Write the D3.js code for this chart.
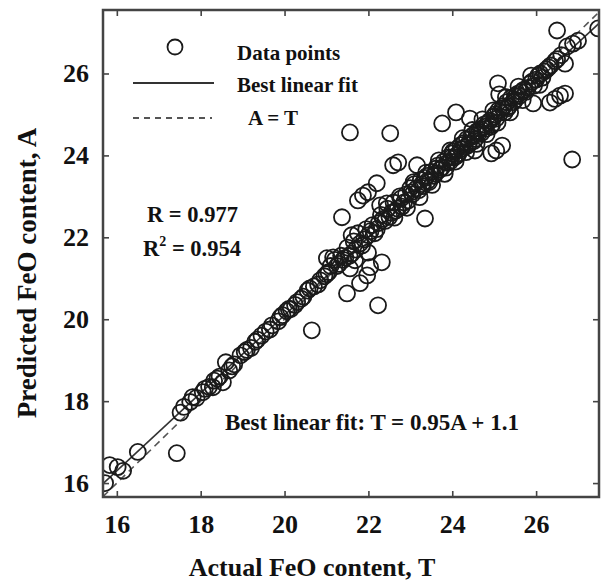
<!DOCTYPE html>
<html>
<head>
<meta charset="utf-8">
<script src="https://cdn.jsdelivr.net/npm/d3@7"></script>
<style>
  html, body { margin: 0; padding: 0; background: #fff; }
  svg text { font-family: 'Liberation Serif', 'Times New Roman', serif; font-weight: bold; fill: #111; }
</style>
</head>
<body>
<div id="container"></div>
<script>
// actual T, predicted A
var bandPoints = [
  [15.72,16.0],[15.83,16.44],[16.02,16.39],[16.15,16.3],[16.5,16.76],
  [17.52,17.72],[17.6,17.86],[17.75,17.98],[17.81,18.1],[17.9,18.08],[18.05,18.22],[18.2,18.35],
  [18.29,18.34],[18.32,18.5],[18.45,18.6],[18.53,18.46],
  [18.6,18.95],[18.68,18.75],[18.8,18.9],[18.95,19.12],[19.05,19.2],[19.2,19.3],[19.3,19.45],
  [19.45,19.6],[19.55,19.7],[19.7,19.85],[19.85,19.95],[19.95,20.1],
  [20.05,20.2],[20.15,20.25],[20.3,20.42],[20.45,20.55],[20.55,20.7],[20.7,20.8],[20.85,20.95],[20.95,21.05],
  [21.01,21.49],[21.05,21.15],[21.1,21.3],[21.16,21.51],[21.2,21.45],[21.3,21.35],[21.35,21.55],[21.45,21.5],
  [21.5,21.75],[21.6,21.6],[21.65,21.9],[21.68,21.44],[21.7,21.7],[21.75,22.1],[21.8,21.85],[21.9,21.95],
  [21.95,22.2],[21.99,21.63],[22.0,22.05],[22.1,22.3],[22.15,22.1],
  [22.25,22.35],[22.28,22.78],[22.3,22.55],[22.4,22.4],[22.44,22.83],[22.45,22.7],[22.55,22.6],[22.6,22.85],
  [22.7,22.7],[22.75,23.0],[22.8,22.75],[22.9,23.05],[22.95,22.9],[23.0,23.2],
  [23.05,23.05],[23.1,23.3],[23.2,23.15],[23.25,23.4],[23.3,23.25],[23.4,23.5],[23.45,23.35],[23.5,23.6],
  [23.6,23.55],[23.65,23.75],[23.7,23.65],[23.8,23.85],[23.85,23.7],[23.9,23.95],[23.95,23.85],
  [24.0,24.05],[24.05,23.95],[24.1,24.15],[24.15,24.05],[24.2,24.25],[24.3,24.2],[24.35,24.4],[24.4,24.3],
  [24.5,24.5],[24.55,24.4],[24.6,24.6],[24.7,24.55],[24.75,24.75],[24.8,24.65],[24.9,24.85],[24.95,24.75],[25.0,24.95],
  [25.05,24.9],[25.1,25.1],[25.2,25.15],[25.25,25.05],[25.3,25.3],[25.35,25.2],[25.4,25.4],[25.5,25.35],
  [25.55,25.5],[25.6,25.45],[25.7,25.6],[25.8,25.65],[25.9,25.8],[26.0,25.85],
  [26.1,26.0],[26.2,26.05],[26.3,26.15],[26.45,26.3],[26.6,26.45],[26.69,26.24],[26.74,26.66],[26.88,26.73],[27.0,26.8]
];
var densePoints = [
  [18.1,18.3],[18.4,18.55],[18.75,18.85],[19.1,19.25],[19.35,19.5],[19.65,19.75],[19.9,20.05],[20.1,20.25],
  [20.25,20.35],[20.4,20.5],[20.6,20.75],[20.8,20.85],[21.0,21.1],[21.25,21.3],[21.4,21.45],[21.55,21.55],
  [21.85,21.8],[22.05,22.15],[22.2,22.2],[22.35,22.45],[22.5,22.5],[22.65,22.65],[22.85,22.85],[23.02,23.1],
  [23.15,23.2],[23.28,23.3],[23.35,23.45],[23.42,23.38],[23.55,23.5],[23.62,23.68],[23.75,23.7],[23.88,23.82],
  [23.98,23.95],[24.02,24.1],[24.12,24.0],[24.22,24.15],[24.28,24.3],[24.38,24.25],[24.45,24.45],[24.52,24.35],
  [24.62,24.52],[24.68,24.65],[24.78,24.7],[24.85,24.8],[24.92,24.7],[25.02,25.0],[25.15,25.05],[25.22,25.2],
  [25.32,25.15],[25.45,25.3],[25.52,25.45],[25.65,25.55],[25.75,25.55],[25.85,25.75],[25.95,25.7],[26.05,25.95],
  [26.15,25.9],[26.25,26.1],[26.35,26.2],[26.5,26.35],
  [22.62,22.48],[22.78,22.95],[22.92,22.72],[23.08,23.35],[23.22,22.98],[23.38,23.58],[23.52,23.28],
  [23.68,23.88],[23.82,23.55],[23.95,24.12],[24.08,23.85],[24.25,24.42],[24.33,24.08],[24.48,24.62],
  [24.58,24.28],[24.72,24.88],[24.82,24.52],[24.98,25.1],[25.08,24.8],[25.28,25.42],[25.38,25.05],
  [25.58,25.68],[25.68,25.35],[25.88,25.95],[26.08,25.72]
];
var upperPoints = [
  [21.37,22.49],[21.6,22.05],[21.75,22.9],[21.87,23.02],[21.99,23.1],[22.2,23.32],
  [22.59,23.76],[22.71,23.83],[23.16,23.76],[21.56,24.56],[22.52,24.54],[23.76,24.78],
  [24.09,25.05],[24.42,24.9],[25.09,25.76],[25.12,25.49],[26.5,27.05],[27.48,27.1]
];
var lowerPoints = [
  [17.43,16.73],[20.65,19.73],[22.23,20.34],[21.49,20.63],[21.8,20.88],[21.97,21.07],[22.04,21.27],
  [22.32,21.39],[21.56,21.24],[23.35,22.46],[24.54,24.12],[24.93,24.05],[25.05,24.12],[25.19,24.24],
  [25.93,25.27],[26.33,25.29],[26.45,25.38],[26.57,25.46],[26.69,25.51],[26.86,23.9]
];
var xTicks = [16, 18, 20, 22, 24, 26];
var yTicks = [16, 18, 20, 22, 24, 26];
var xDomain = [15.67, 27.5];
var yDomain = [15.66, 27.55];
var fitSlope = 0.95, fitIntercept = 1.1;
var legendLabels = ['Data points', 'Best linear fit', 'A = T'];

(function(){
var W = 604, H = 582,
  left = 103, right = 599, top = 10, bottom = 497,
  svg = d3.select('#container').append('svg').attr('width', W).attr('height', H),
  x = d3.scaleLinear().domain(xDomain).range([left, right]),
  y = d3.scaleLinear().domain(yDomain).range([bottom, top]),
  allPoints = bandPoints.concat(densePoints, upperPoints, lowerPoints);

svg.append('clipPath').attr('id', 'plot-clip')
  .append('rect').attr('x', left).attr('y', top)
  .attr('width', right - left).attr('height', bottom - top);

var plot = svg.append('g').attr('clip-path', 'url(#plot-clip)');

// A = T reference
plot.append('line')
  .attr('x1', x(xDomain[0])).attr('y1', y(xDomain[0]))
  .attr('x2', x(xDomain[1])).attr('y2', y(xDomain[1]))
  .attr('stroke', '#555').attr('stroke-width', 1.6).attr('stroke-dasharray', '7,5');

// best linear fit
plot.append('line')
  .attr('x1', x(xDomain[0])).attr('y1', y(fitSlope * xDomain[0] + fitIntercept))
  .attr('x2', x(xDomain[1])).attr('y2', y(fitSlope * xDomain[1] + fitIntercept))
  .attr('stroke', '#333').attr('stroke-width', 1.6);

plot.selectAll('circle.pt').data(allPoints).enter().append('circle')
  .attr('class', 'pt')
  .attr('cx', function(d){ return x(d[0]); })
  .attr('cy', function(d){ return y(d[1]); })
  .attr('r', 8)
  .attr('fill', 'none').attr('stroke', '#1a1a1a').attr('stroke-width', 1.8);

// axes with inward ticks on all four sides
var tickLen = 6;
svg.append('g').attr('transform', 'translate(0,' + bottom + ')')
  .call(d3.axisBottom(x).tickValues(xTicks).tickSizeInner(-tickLen).tickSizeOuter(0).tickPadding(18))
  .call(function(g){ g.select('.domain').remove(); });
svg.append('g').attr('transform', 'translate(0,' + top + ')')
  .call(d3.axisTop(x).tickValues(xTicks).tickSizeInner(-tickLen).tickSizeOuter(0).tickFormat(''))
  .call(function(g){ g.select('.domain').remove(); });
svg.append('g').attr('transform', 'translate(' + left + ',0)')
  .call(d3.axisLeft(y).tickValues(yTicks).tickSizeInner(-tickLen).tickSizeOuter(0).tickPadding(14))
  .call(function(g){ g.select('.domain').remove(); });
svg.append('g').attr('transform', 'translate(' + right + ',0)')
  .call(d3.axisRight(y).tickValues(yTicks).tickSizeInner(-tickLen).tickSizeOuter(0).tickFormat(''))
  .call(function(g){ g.select('.domain').remove(); });

svg.selectAll('.tick line').attr('stroke', '#444').attr('stroke-width', 1.6);
svg.selectAll('.tick text')
  .attr('font-family', "'Liberation Serif', serif").attr('font-weight', 'bold')
  .attr('font-size', 26).attr('fill', '#111');

svg.append('rect')
  .attr('x', left).attr('y', top).attr('width', right - left).attr('height', bottom - top)
  .attr('fill', 'none').attr('stroke', '#444').attr('stroke-width', 2.5);

// axis titles
svg.append('text').attr('x', 312).attr('y', 576).attr('text-anchor', 'middle')
  .attr('font-size', 26).text('Actual FeO content, T');
svg.append('text').attr('transform', 'translate(36,273) rotate(-90)').attr('text-anchor', 'middle')
  .attr('font-size', 27).text('Predicted FeO content, A');

// legend
svg.append('circle').attr('cx', 175).attr('cy', 47).attr('r', 7.5)
  .attr('fill', 'none').attr('stroke', '#1a1a1a').attr('stroke-width', 1.8);
svg.append('line').attr('x1', 133).attr('x2', 214).attr('y1', 83).attr('y2', 83)
  .attr('stroke', '#333').attr('stroke-width', 2.2);
svg.append('line').attr('x1', 133).attr('x2', 212).attr('y1', 118).attr('y2', 118)
  .attr('stroke', '#555').attr('stroke-width', 1.8).attr('stroke-dasharray', '6,5');
svg.append('text').attr('x', 237).attr('y', 60).attr('font-size', 21).text(legendLabels[0]);
svg.append('text').attr('x', 237).attr('y', 92).attr('font-size', 21).text(legendLabels[1]);
svg.append('text').attr('x', 248).attr('y', 125).attr('font-size', 21).text(legendLabels[2]);

// statistics
svg.append('text').attr('x', 147).attr('y', 222).attr('font-size', 22.5).text('R = 0.977');
var r2 = svg.append('text').attr('x', 143).attr('y', 256).attr('font-size', 22.5);
r2.append('tspan').text('R');
r2.append('tspan').attr('font-size', 14).attr('dy', -10).text('2');
r2.append('tspan').attr('dy', 10).text(' = 0.954');

svg.append('text').attr('x', 225).attr('y', 430).attr('font-size', 23)
  .text('Best linear fit: T = ' + fitSlope + 'A + ' + fitIntercept);
})();
</script>
</body>
</html>
